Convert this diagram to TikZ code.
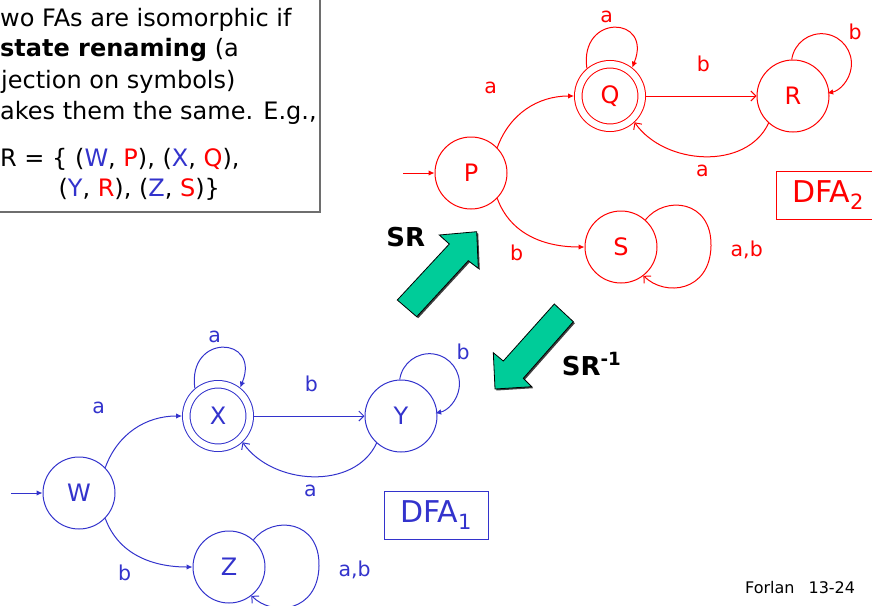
\documentclass[tikz,border=0pt]{standalone}
\usepackage{fontspec}
\setmainfont{DejaVu Sans}
\usetikzlibrary{arrows.meta}
\definecolor{fared}{RGB}{255,0,0}
\definecolor{fablue}{RGB}{51,51,204}
\definecolor{srgreen}{RGB}{0,204,153}
\definecolor{boxgray}{RGB}{110,110,110}

% #1 start, #2 accepting, #3 third, #4 dead, #5 index
\newcommand{\myautomaton}[5]{%
  \node[st] (#1) at (471,-173) {#1};
  \node[st,acc] (#2) at (610,-96) {#2};
  \node[st] (#3) at (793,-96) {#3};
  \node[st] (#4) at (621,-247) {#4};
  \coordinate (#1in) at (403,-173);
  \draw[ftip] (#1in) -- (#1);
  \draw[ftip] (#1.44) to[out=70,in=180] (#2.180);
  \draw[ftip] (#1.-44) to[out=-70,in=180] (#4.180);
  \draw[otip] (#2) -- (#3);
  \draw[otip] (#3.-132) to[out=-115,in=-55] (#2.-47);
  \draw[ftip] (#2.130) .. controls +(98:56) and +(68:56) .. (#2.52);
  \draw[ftip] (#3.92) arc[start angle=172,end angle=-79,radius=30];
  \draw[otip] (#4.48) .. controls (665,-195) and (712,-200) .. (711,-246)
                      .. controls (710,-292) and (665,-297) .. (#4.-52);
  \node[lab] (#1la) at (490.7,-93.3) {a};
  \node[lab] (#2la) at (606.7,-22.7) {a};
  \node[lab] (#2lb) at (703.3,-71.7) {b};
  \node[lab] (#3lb) at (855,-39) {b};
  \node[lab] (#3la) at (702.3,-176) {a};
  \node[lab] (#1lb) at (516.7,-260) {b};
  \node[lab] (#4lab) at (746.7,-256.7) {a,b};
  \node[dfabox] (dfa#5) at (828,-195) {DFA\textsubscript{#5}};
}

\begin{document}
\begin{tikzpicture}[x=1pt,y=1pt,
  st/.style={circle,draw,line width=1pt,minimum size=72pt,inner sep=0pt,font=\fontsize{24}{29}\selectfont},
  acc/.style={minimum size=63.5pt,double,double distance=6.5pt,outer sep=4.25pt},
  fa/.style={line width=1pt},
  ftip/.style={fa,-{Latex[length=6pt,width=5.5pt]}},
  otip/.style={fa,-{Straight Barb[length=5pt,width=10pt]}},
  lab/.style={anchor=base,inner sep=0pt,font=\fontsize{20.5}{24}\selectfont},
  dfabox/.style={draw,line width=1pt,minimum width=104pt,minimum height=48pt,inner sep=0pt,font=\fontsize{30}{36}\selectfont},
  txt/.style={anchor=base west,inner sep=0pt,font=\fontsize{24}{29}\selectfont},
  bigarrow/.style={fill=srgreen,draw=black,line width=0.8pt,line join=miter},
  arrowshadow/.style={fill=black!75},
  srlab/.style={inner sep=0pt,font=\fontsize{26}{31}\selectfont\bfseries}
]
\useasboundingbox (0,0) rectangle (872,-605);
\clip (0,0) rectangle (872,-605);

% explanation box
\draw[boxgray,line width=2pt] (-5,5) rectangle (319.5,-212);
\node[txt] (t1) at (0,-26.7) {wo FAs are isomorphic if};
\node[txt] (t2) at (0,-56.7) {\textbf{state renaming} (a};
\node[txt] (t3) at (1,-88.3) {jection on symbols)};
\node[txt] (t4) at (0,-119.3) {akes them the same. E.g.,};
\node[txt] (t5) at (0,-166.7) {R = \{ (\textcolor{fablue}{W}, \textcolor{fared}{P}), (\textcolor{fablue}{X}, \textcolor{fared}{Q}),};
\node[txt] (t6) at (58.3,-196.7) {(\textcolor{fablue}{Y}, \textcolor{fared}{R}), (\textcolor{fablue}{Z}, \textcolor{fared}{S})\}};

% DFA2 (red)
\begin{scope}[color=fared]
  \myautomaton{P}{Q}{R}{S}{2}
\end{scope}

% DFA1 (blue)
\begin{scope}[shift={(-392,-320)},color=fablue]
  \myautomaton{W}{X}{Y}{Z}{1}
\end{scope}

% big green arrows
\fill[arrowshadow] (399.5,-301.5) -- (450.8,-245.5) -- (440.8,-236.5) -- (478.2,-233.2) -- (479.8,-269.8) -- (469.8,-262.2) -- (418.2,-318.2) -- cycle;
\path[bigarrow] (397.3,-300) -- (449.3,-244) -- (439.3,-235) -- (476.7,-231.7) -- (478.3,-268.3) -- (468.3,-260.7) -- (416.7,-316.7) -- cycle;
\fill[arrowshadow] (555.8,-305.5) -- (504.8,-362.5) -- (494.8,-354.2) -- (496.5,-390.5) -- (533.2,-388.2) -- (524.8,-379.8) -- (574.8,-323.2) -- cycle;
\path[bigarrow] (554.3,-304) -- (503.3,-361) -- (493.3,-352.7) -- (495,-389) -- (531.7,-386.7) -- (523.3,-378.3) -- (573.3,-321.7) -- cycle;
\node[srlab] (sr) at (405.8,-237.5) {SR};
\node[srlab,anchor=base west] (srinv) at (561.7,-375) {SR\textsuperscript{-1}};

% footer
\node[anchor=base west,inner sep=0pt,font=\fontsize{16}{19}\selectfont] (footer) at (745,-593.3) {Forlan\hspace{14pt}13-24};
\end{tikzpicture}
\end{document}
